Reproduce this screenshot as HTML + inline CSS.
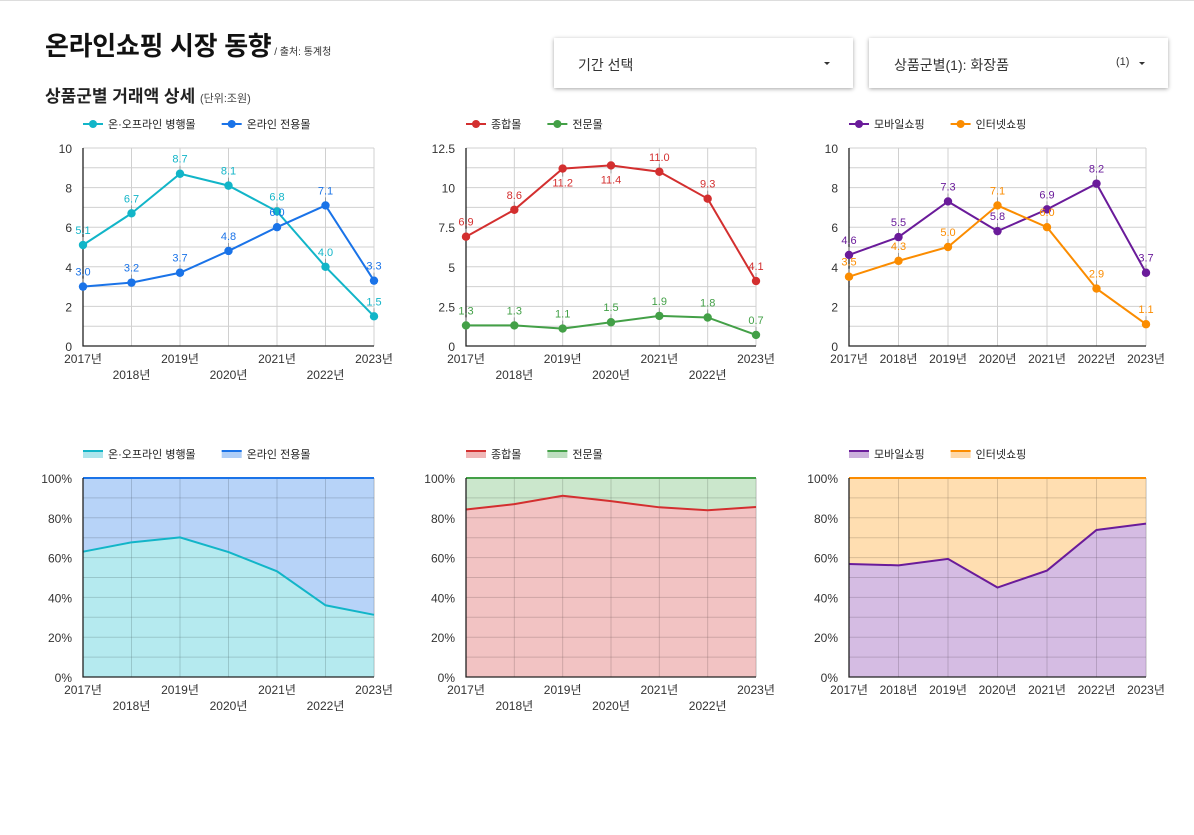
<!DOCTYPE html>
<html><head><meta charset="utf-8">
<style>
body{margin:0;width:1194px;height:835px;background:#fff;font-family:"Liberation Sans","Noto Sans CJK KR",sans-serif;position:relative;overflow:hidden}
.topline{position:absolute;left:0;top:0;width:1194px;height:1px;background:#ddd}
.title{position:absolute;left:45px;top:26px;font-size:26px;font-weight:bold;color:#111;letter-spacing:-0.3px}
.title small{font-size:10px;font-weight:normal;color:#333;letter-spacing:0}
.sub{position:absolute;left:45px;top:82px;font-size:17px;font-weight:bold;color:#222}
.sub small{font-size:11px;font-weight:normal;color:#444}
.dd{position:absolute;top:38px;height:50px;background:#fff;box-shadow:0 1px 4px rgba(0,0,0,.35);font-size:14px;color:#333}
.dd span{position:absolute;top:17px}
.caret{position:absolute;top:24px;width:0;height:0;border-left:3px solid transparent;border-right:3px solid transparent;border-top:3px solid #333}
svg{position:absolute;left:0;top:0}
svg text{font-family:"Liberation Sans","Noto Sans CJK KR",sans-serif}
</style></head><body>
<div class="topline"></div>
<div class="title">온라인쇼핑 시장 동향<small> / 출처: 통계청</small></div>
<div class="sub">상품군별 거래액 상세 <small>(단위:조원)</small></div>
<div class="dd" style="left:554px;width:299px"><span style="left:24px">기간 선택</span><div class="caret" style="left:270px"></div></div>
<div class="dd" style="left:869px;width:299px"><span style="left:25px">상품군별(1): 화장품</span><span style="left:247px;font-size:11px;top:18px">(1)</span><div class="caret" style="left:270px"></div></div>
<svg id="svg" width="1194" height="835"></svg>
<script>
const years=["2017년","2018년","2019년","2020년","2021년","2022년","2023년"];
const s1Names=["온·오프라인 병행몰","온라인 전용몰"];
const s1a=[5.1,6.7,8.7,8.1,6.8,4.0,1.5];
const s1b=[3.0,3.2,3.7,4.8,6.0,7.1,3.3];
const s2Names=["종합몰","전문몰"];
const s2a=[6.9,8.6,11.2,11.4,11.0,9.3,4.1];
const s2b=[1.3,1.3,1.1,1.5,1.9,1.8,0.7];
const s3Names=["모바일쇼핑","인터넷쇼핑"];
const s3a=[4.6,5.5,7.3,5.8,6.9,8.2,3.7];
const s3b=[3.5,4.3,5.0,7.1,6.0,2.9,1.1];
const ticks1=[0,2,4,6,8,10];
const ticks2=[0,2.5,5,7.5,10,12.5];
const pctTicks=[0,20,40,60,80,100];

const NS="http://www.w3.org/2000/svg";
const svg=document.getElementById('svg');
function mk(t,a,txt){const e=document.createElementNS(NS,t);for(const k in a)e.setAttribute(k,a[k]);if(txt!==undefined)e.textContent=txt;svg.appendChild(e);return e;}

function frame(x0,x1,y0,y1,ticks,max,minorStep,fmt,stagger,name){
  const yS=v=>y1-(v/max)*(y1-y0);
  const xS=i=>x0+i*(x1-x0)/(years.length-1);
  for(let v=0;v<=max+1e-9;v+=minorStep){
    const g=mk('line',{x1:x0,x2:x1,y1:yS(v),y2:yS(v),stroke:'#d0d0d0','stroke-width':1});
    
    
  }
  years.forEach((y,i)=>{
    const g=mk('line',{x1:xS(i),x2:xS(i),y1:y0,y2:y1,stroke:'#d0d0d0','stroke-width':1});
    
    
    const low=stagger&&i%2===1;
    const t=mk('text',{x:xS(i),y:y1+(low?33:17),'text-anchor':'middle','font-size':12,fill:'#333'},y);
    
    
  });
  ticks.forEach(v=>{
    const t=mk('text',{x:x0-11,y:yS(v)+5,'text-anchor':'end','font-size':12,fill:'#333'},fmt(v));
    
    
  });
  return {xS,yS};
}
function axes(x0,x1,y0,y1,name){
  const a=mk('polyline',{points:`${x0},${y0} ${x0},${y1} ${x1},${y1}`,fill:'none',stroke:'#222','stroke-width':1.3});
  
  
}
function legend(x,y,names,colors,area,name){
  let cx=x;
  names.forEach((n,k)=>{
    if(area){
      const r=mk('rect',{x:cx,y:y-4,width:20,height:8,fill:colors[k],opacity:.35});
      
      
      const l=mk('line',{x1:cx,x2:cx+20,y1:y-3,y2:y-3,stroke:colors[k],'stroke-width':2});
      
      
    }else{
      const l=mk('line',{x1:cx,x2:cx+20,y1:y,y2:y,stroke:colors[k],'stroke-width':2});
      
      
      const c=mk('circle',{cx:cx+10,cy:y,r:4,fill:colors[k]});
      
      
    }
    const t=mk('text',{x:cx+25,y:y+4,'font-size':11,fill:'#222'},n);
    
    
    cx+=25+t.getComputedTextLength()+26;
  });
}
function lineChart(x0,x1,y0,y1,ticks,max,minor,series,colors,names,below,stagger,name){
  const {xS,yS}=frame(x0,x1,y0,y1,ticks,max,minor,v=>String(v),stagger,name);
  axes(x0,x1,y0,y1,name);
  legend(x0,124,names,colors,false,name);
  series.forEach((arr,k)=>{
    const p=mk('polyline',{points:arr.map((v,i)=>xS(i)+','+yS(v)).join(' '),fill:'none',stroke:colors[k],'stroke-width':2});
    
    
  });
  series.forEach((arr,k)=>{
    arr.forEach((v,i)=>{
      const dn=below&&below[k]&&below[k][i];
      const ly=dn?yS(v)+18:yS(v)-9;
      const lead=mk('line',{x1:xS(i),x2:xS(i),y1:yS(v),y2:dn?yS(v)+8:yS(v)-8,stroke:'#999','stroke-width':1});
      
      
      const c=mk('circle',{cx:xS(i),cy:yS(v),r:4.2,fill:colors[k]});
      
      
      const t=mk('text',{x:xS(i),y:dn?ly:ly-2,'text-anchor':'middle','font-size':11,fill:colors[k]},v.toFixed(1));
      
      
    });
  });
}
function areaChart(x0,x1,y0,y1,a,b,colors,fills,names,stagger,name){
  const {xS,yS}=frame(x0,x1,y0,y1,pctTicks,100,10,v=>v+'%',stagger,name);
  const share=a.map((v,i)=>v/(v+b[i])*100);
  const line=share.map((v,i)=>xS(i)+','+yS(v)).join(' ');
  const top=mk('polygon',{points:`${x0},${y0} ${x1},${y0} `+share.map((v,i)=>xS(i)+','+yS(v)).reverse().join(' '),fill:fills[1],opacity:.85});
  
  
  const bot=mk('polygon',{points:`${x0},${y1} `+line+` ${x1},${y1}`,fill:fills[0],opacity:.85});
  
  
  for(let v=10;v<100;v+=10){
    const g=mk('line',{x1:x0,x2:x1,y1:yS(v),y2:yS(v),stroke:'rgba(0,0,0,0.12)','stroke-width':1});
    
    
  }
  years.forEach((y,i)=>{
    const g=mk('line',{x1:xS(i),x2:xS(i),y1:y0,y2:y1,stroke:'rgba(0,0,0,0.12)','stroke-width':1});
    
    
  });
  const tl=mk('line',{x1:x0,x2:x1,y1:y0,y2:y0,stroke:colors[1],'stroke-width':2});
  
  
  const p=mk('polyline',{points:line,fill:'none',stroke:colors[0],'stroke-width':2});
  
  
  axes(x0,x1,y0,y1,name);
  legend(x0,454,names,colors,true,name);
}
const C1=['#12b5c8','#1a73e8'],C2=['#d32f2f','#43a047'],C3=['#6a1b9a','#fb8c00'];
lineChart(83,374,148,346,ticks1,10,1,[s1a,s1b],C1,s1Names,null,true,'chart1');
lineChart(466,756,148,346,ticks2,12.5,1.25,[s2a,s2b],C2,s2Names,[[0,0,1,1,0,0,0],[]],true,'chart2');
lineChart(849,1146,148,346,ticks1,10,1,[s3a,s3b],C3,s3Names,null,false,'chart3');
areaChart(83,374,478,677,s1a,s1b,C1,['#a8e6ec','#aacbf7'],s1Names,true,'share1');
areaChart(466,756,478,677,s2a,s2b,C2,['#f0b9b9','#c2e3c3'],s2Names,true,'share2');
areaChart(849,1146,478,677,s3a,s3b,C3,['#ceb0de','#ffd8a3'],s3Names,false,'share3');
</script>
</body></html>
